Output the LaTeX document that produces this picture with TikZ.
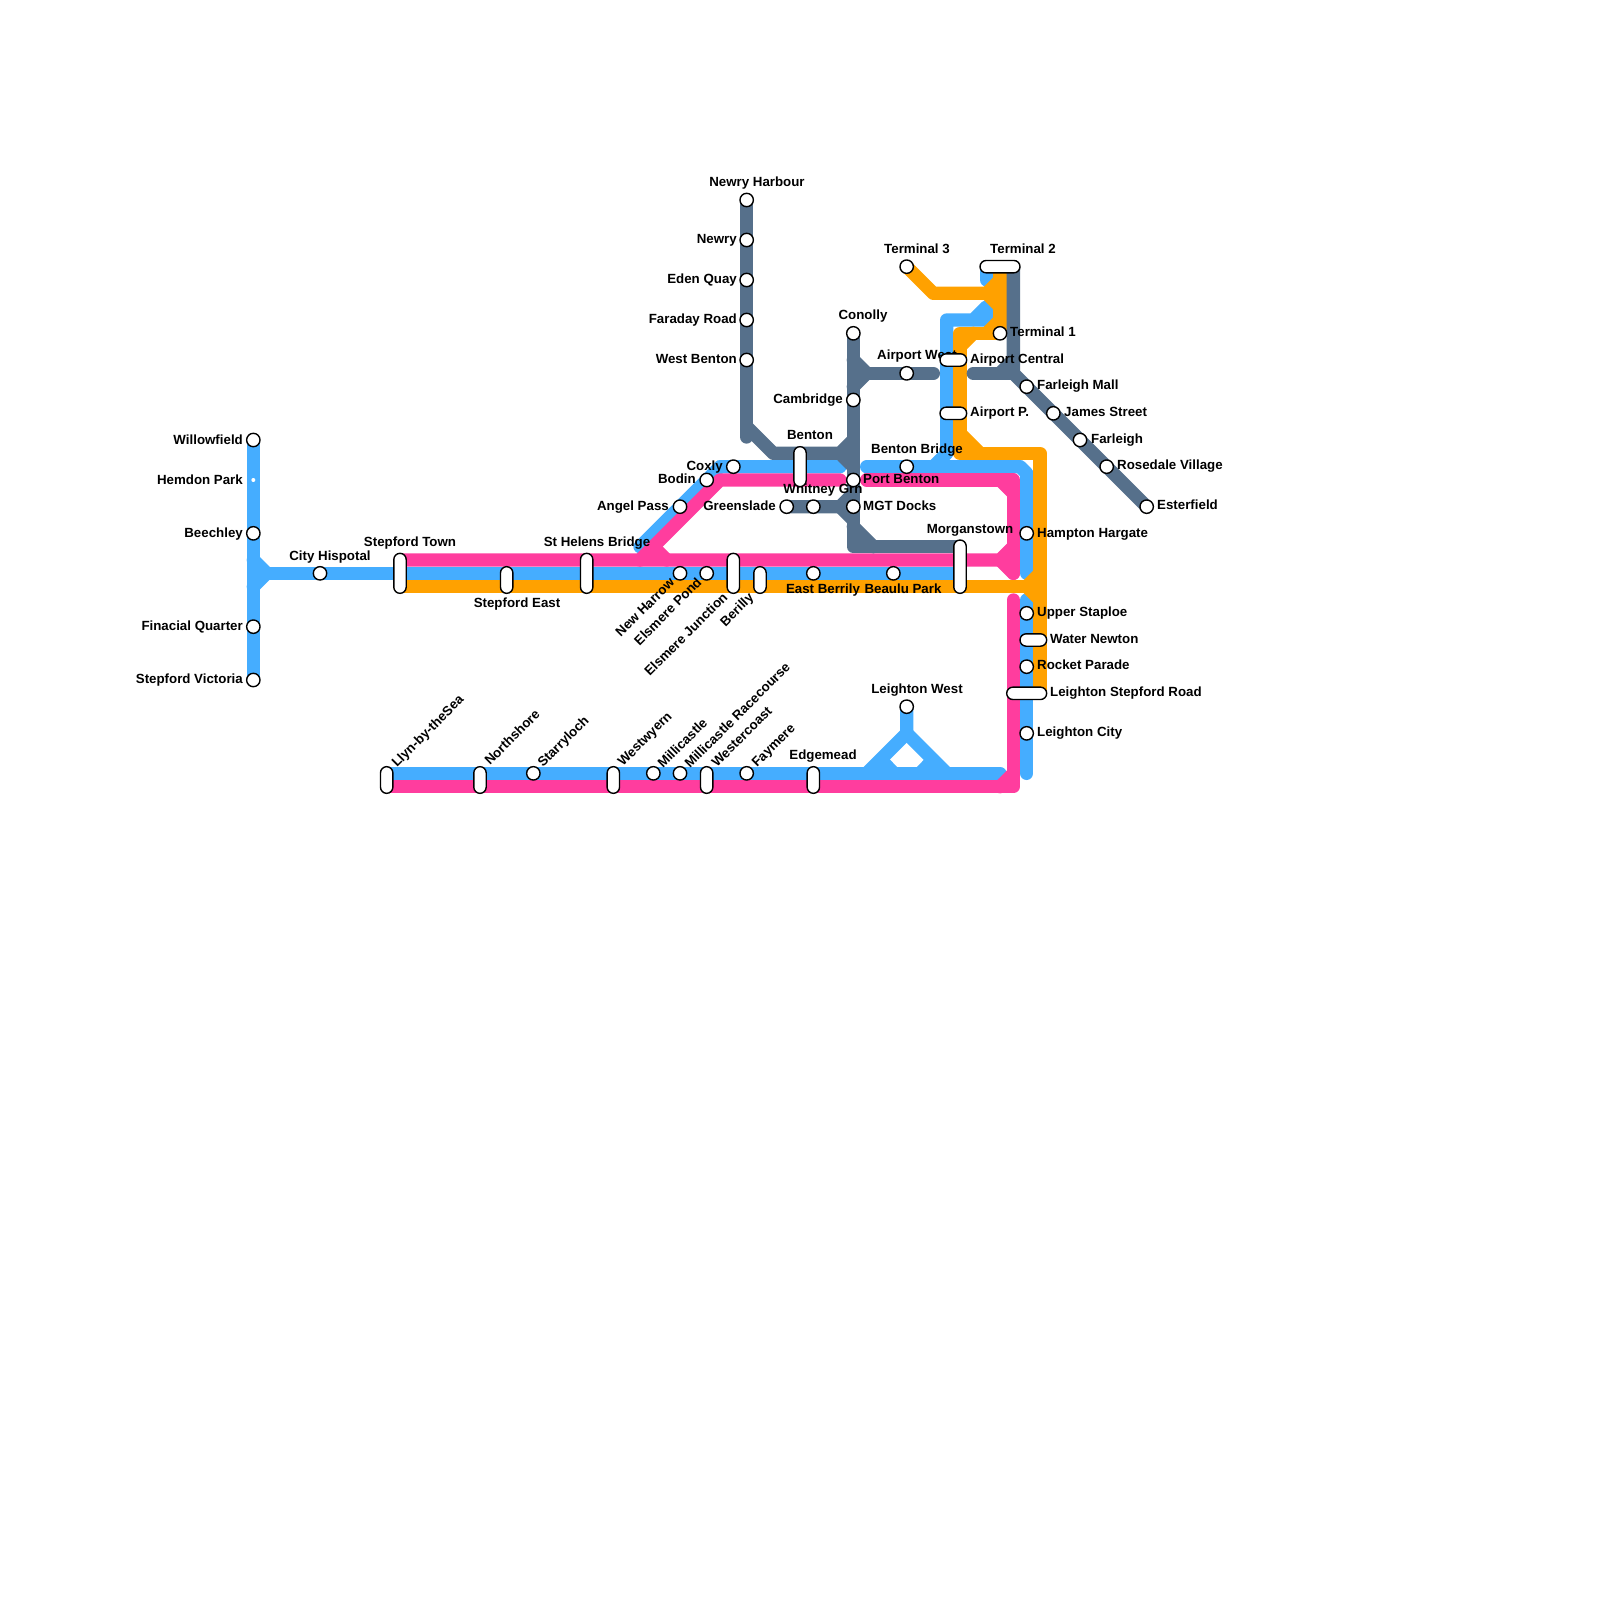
\documentclass[tikz,border=0pt]{standalone}
\usepackage{fontspec}
\setmainfont{Liberation Sans}
\usetikzlibrary{backgrounds}
\pgfdeclarelayer{stationlayer}
\pgfsetlayers{background,main,stationlayer}
\definecolor{mblue}{RGB}{69,173,255}
\definecolor{mpink}{RGB}{255,61,158}
\definecolor{morange}{RGB}{255,161,0}
\definecolor{mgrey}{RGB}{86,112,139}
\tikzset{
  x=1pt,y=-1pt,
  metro/.style={line width=13.33pt,line cap=round,line join=round},
  blueline/.style={metro,draw=mblue},
  pinkline/.style={metro,draw=mpink},
  orangeline/.style={metro,draw=morange},
  greyline/.style={metro,draw=mgrey},
  stn/.style={circle,draw=black,fill=white,line width=1.4pt,minimum size=13.4pt,inner sep=0pt},
  vcap/.style={draw=black,fill=white,line width=1.4pt,rounded corners=6.2pt,minimum width=12.4pt,inner sep=0pt,minimum height=#1},
  hcap/.style={draw=black,fill=white,line width=1.4pt,rounded corners=6.2pt,minimum height=12.4pt,inner sep=0pt,minimum width=#1},
  lab/.style={font=\fontsize{13.3}{15}\selectfont\bfseries,inner sep=0pt,text=black},
  lw/.style={lab,anchor=mid west,yshift=-1.8pt},
  le/.style={lab,anchor=mid east,yshift=-1.8pt},
  lc/.style={lab,anchor=mid,yshift=-1.8pt},
  rw/.style={lab,anchor=mid west,rotate=45,xshift=3.5pt,yshift=-2.2pt},
  re/.style={lab,anchor=mid east,rotate=45,xshift=-2pt,yshift=0pt},
}
\begin{document}
\begin{tikzpicture}
\useasboundingbox (0,0) rectangle (1600,1600);
% ---------- stations (top layer)
\begin{pgfonlayer}{stationlayer}
\node[stn] (willowfield) at (253.33,440) {};
\node[circle,fill=white,minimum size=4pt,inner sep=0pt] (hemdon) at (253.33,480) {};
\node[stn] (beechley) at (253.33,533.33) {};
\node[stn] (finacial) at (253.33,626.67) {};
\node[stn] (victoria) at (253.33,680) {};
\node[stn] (cityhosp) at (320,573.33) {};
\node[vcap=40pt] (stepfordtown) at (400,573.33) {};
\node[vcap=26.67pt] (stepfordeast) at (506.67,580) {};
\node[vcap=40pt] (sthelens) at (586.67,573.33) {};
\node[stn] (newharrow) at (680,573.33) {};
\node[stn] (elsmerepond) at (706.67,573.33) {};
\node[vcap=40pt] (elsmerej) at (733.33,573.33) {};
\node[vcap=26.67pt] (berilly) at (760,580) {};
\node[stn] (eastberrily) at (813.33,573.33) {};
\node[stn] (beaulu) at (893.33,573.33) {};
\node[vcap=53.33pt] (morganstown) at (960,566.67) {};
\node[stn] (angelpass) at (680,506.67) {};
\node[stn] (bodin) at (706.67,480) {};
\node[stn] (coxly) at (733.33,466.67) {};
\node[vcap=40pt] (benton) at (800,466.67) {};
\node[stn] (portbenton) at (853.33,480) {};
\node[stn] (mgt) at (853.33,506.67) {};
\node[stn] (whitney) at (813.33,506.67) {};
\node[stn] (greenslade) at (786.67,506.67) {};
\node[stn] (bentonbridge) at (906.67,466.67) {};
\node[stn] (hampton) at (1026.67,533.33) {};
\node[stn] (newryh) at (746.67,200) {};
\node[stn] (newry) at (746.67,240) {};
\node[stn] (eden) at (746.67,280) {};
\node[stn] (faraday) at (746.67,320) {};
\node[stn] (westbenton) at (746.67,360) {};
\node[stn] (conolly) at (853.33,333.33) {};
\node[stn] (cambridge) at (853.33,400) {};
\node[stn] (airportw) at (906.67,373.33) {};
\node[hcap=26.67pt] (airportc) at (953.33,360) {};
\node[hcap=26.67pt] (airportp) at (953.33,413.33) {};
\node[stn] (terminal3) at (906.67,266.67) {};
\node[hcap=40pt] (terminal2) at (1000,266.67) {};
\node[stn] (terminal1) at (1000,333.33) {};
\node[stn] (farleighm) at (1026.67,386.67) {};
\node[stn] (james) at (1053.33,413.33) {};
\node[stn] (farleigh) at (1080,440) {};
\node[stn] (rosedale) at (1106.67,466.67) {};
\node[stn] (esterfield) at (1146.67,506.67) {};
\node[stn] (upper) at (1026.67,613.33) {};
\node[hcap=26.67pt] (water) at (1033.33,640) {};
\node[stn] (rocket) at (1026.67,666.67) {};
\node[hcap=40pt] (leightons) at (1026.67,693.33) {};
\node[stn] (leightonc) at (1026.67,733.33) {};
\node[stn] (leightonw) at (906.67,706.67) {};
\node[vcap=26.67pt] (llyn) at (386.67,780) {};
\node[vcap=26.67pt] (northshore) at (480,780) {};
\node[stn] (starryloch) at (533.33,773.33) {};
\node[vcap=26.67pt] (westwyern) at (613.33,780) {};
\node[stn] (millicastle) at (653.33,773.33) {};
\node[stn] (racecourse) at (680,773.33) {};
\node[vcap=26.67pt] (westercoast) at (706.67,780) {};
\node[stn] (faymere) at (746.67,773.33) {};
\node[vcap=26.67pt] (edgemead) at (813.33,780) {};
\end{pgfonlayer}
% ---------- waypoints
\coordinate (wA) at (253.33,560);
\coordinate (wB) at (266.67,573.33);
\coordinate (wC) at (253.33,586.67);
\coordinate (bD1) at (640,546.67);
\coordinate (bD2) at (720,466.67);
\coordinate (bD3) at (840,466.67);
\coordinate (bR1) at (866.67,466.67);
\coordinate (bR2) at (1020,466.67);
\coordinate (bR3) at (1026.67,473.33);
\coordinate (bR4) at (1026.67,573.33);
\coordinate (bS1) at (933.33,466.67);
\coordinate (bS2) at (946.67,453.33);
\coordinate (bS3) at (946.67,320);
\coordinate (bS4) at (973.33,320);
\coordinate (bS5) at (986.67,306.67);
\coordinate (bS6) at (986.67,320);
\coordinate (bT1) at (986.67,266.67);
\coordinate (bT2) at (986.67,280);
\coordinate (bL1) at (1026.67,600);
\coordinate (bL2) at (1026.67,773.33);
\coordinate (bB1) at (386.67,773.33);
\coordinate (bB2) at (1000,773.33);
\coordinate (bW1) at (906.67,733.33);
\coordinate (bW2) at (866.67,773.33);
\coordinate (bW3) at (946.67,773.33);
\coordinate (bW4) at (881,760);
\coordinate (bW5) at (894,773.33);
\coordinate (bW6) at (933,760);
\coordinate (bW7) at (920,773.33);
\coordinate (pM1) at (400,560);
\coordinate (pM2) at (1000,560);
\coordinate (pM3) at (1013.33,546.67);
\coordinate (pM4) at (1013.33,573.33);
\coordinate (pU1) at (866.67,480);
\coordinate (pU2) at (1013.33,480);
\coordinate (pU3) at (1000,480);
\coordinate (pU4) at (1013.33,493.33);
\coordinate (pD1) at (640,560);
\coordinate (pD2) at (720,480);
\coordinate (pD3) at (840,480);
\coordinate (pD4) at (653.33,546.67);
\coordinate (pD5) at (666.67,560);
\coordinate (pB1) at (386.67,786.67);
\coordinate (pB2) at (1013.33,786.67);
\coordinate (pB3) at (1013.33,600);
\coordinate (pB4) at (1000,786.67);
\coordinate (pB5) at (1013.33,773.33);
\coordinate (oM1) at (400,586.67);
\coordinate (oM2) at (1040,586.67);
\coordinate (oJ1) at (1026.67,586.67);
\coordinate (oJ2) at (1040,573.33);
\coordinate (oJ3) at (1040,600);
\coordinate (oR1) at (960,453.33);
\coordinate (oR2) at (1040,453.33);
\coordinate (oR3) at (1040,693.33);
\coordinate (oR4) at (960,433.33);
\coordinate (oR5) at (980,453.33);
\coordinate (oA1) at (960,333.33);
\coordinate (oA2) at (960,346.67);
\coordinate (oA3) at (973.33,333.33);
\coordinate (oT1) at (933.33,293.33);
\coordinate (oT2) at (1000,293.33);
\coordinate (oT3) at (986.67,293.33);
\coordinate (oT4) at (1000,280);
\coordinate (oT5) at (1000,306.67);
\coordinate (oT6) at (1000,320);
\coordinate (oT7) at (986.67,333.33);
\coordinate (gB0) at (746.67,437);
\coordinate (gB1) at (746.67,426.67);
\coordinate (gB2) at (773.33,453.33);
\coordinate (gB3) at (840,453.33);
\coordinate (gB4) at (853.33,440);
\coordinate (gB5) at (853.33,466.67);
\coordinate (gV1) at (853.33,546.67);
\coordinate (gV2) at (853.33,526.67);
\coordinate (gV3) at (873.33,546.67);
\coordinate (gA1) at (853.33,360);
\coordinate (gA2) at (866.67,373.33);
\coordinate (gA3) at (853.33,386.67);
\coordinate (gA4) at (933.33,373.33);
\coordinate (gW1) at (840,506.67);
\coordinate (gW2) at (853.33,493.33);
\coordinate (gW3) at (853.33,520);
\coordinate (gT1) at (1013.33,266.67);
\coordinate (gT2) at (1013.33,373.33);
\coordinate (gT3) at (973.33,373.33);
\coordinate (gT4) at (1000,373.33);
\coordinate (gT5) at (1013.33,360);
% ---------- lines
\begin{pgfonlayer}{background}
% blue
\draw[blueline] (willowfield.center) -- (victoria.center);
\draw[blueline] (wA) -- (wB) -- (wC);
\draw[blueline] (wB) -- (stepfordtown.center) -- (morganstown.center |- stepfordtown.center);
\draw[blueline] (bD1) -- (bD2) -- (bD3);
\draw[blueline] (bR1) -- (bR2) -- (bR3) -- (bR4);
\draw[blueline] (bS1) -- (bS2) -- (bS3) -- (bS4) -- (bS5) -- (bS6) -- (bS4);
\draw[blueline] (bT1) -- (bT2);
\draw[blueline] (bL1) -- (bL2);
\draw[blueline] (bB1) -- (bB2);
\draw[blueline] (leightonw.center) -- (bW1) -- (bW2);
\draw[blueline] (bW1) -- (bW3);
\draw[blueline] (bW4) -- (bW5);
\draw[blueline] (bW6) -- (bW7);
% pink
\draw[pinkline] (pM1) -- (pM2) -- (pM3);
\draw[pinkline] (pM2) -- (pM4);
\draw[pinkline] (pU1) -- (pU2) -- (pM4);
\draw[pinkline] (pU3) -- (pU4);
\draw[pinkline] (pD1) -- (pD2) -- (pD3);
\draw[pinkline] (pD4) -- (pD5);
\draw[pinkline] (pB1) -- (pB2) -- (pB3);
\draw[pinkline] (pB4) -- (pB5);
% orange
\draw[orangeline] (oM1) -- (oM2);
\draw[orangeline] (oJ1) -- (oJ2);
\draw[orangeline] (oJ1) -- (oJ3);
\draw[orangeline] (terminal1.center) -- (oA1) -- (oR1) -- (oR2) -- (oR3);
\draw[orangeline] (oR4) -- (oR5);
\draw[orangeline] (oA2) -- (oA3);
\draw[orangeline] (terminal3.center) -- (oT1) -- (oT2);
\draw[orangeline] (terminal2.center) -- (terminal1.center);
\draw[orangeline] (oT4) -- (oT3) -- (oT5);
\draw[orangeline] (oT6) -- (oT7);
% grey
\draw[greyline] (newryh.center) -- (gB0);
\draw[greyline] (gB1) -- (gB2) -- (gB3) -- (gB4);
\draw[greyline] (gB3) -- (gB5);
\draw[greyline] (conolly.center) -- (gV1) -- (morganstown.center |- gV1);
\draw[greyline] (gV2) -- (gV3);
\draw[greyline] (gA1) -- (gA2) -- (gA3);
\draw[greyline] (gA2) -- (gA4);
\draw[greyline] (greenslade.center) -- (gW1) -- (gW2);
\draw[greyline] (gW1) -- (gW3);
\draw[greyline] (gT1) -- (gT2) -- (esterfield.center);
\draw[greyline] (gT3) -- (gT2);
\draw[greyline] (gT4) -- (gT5);
\end{pgfonlayer}
% ---------- labels
\node[le] (tWillowfield) at (243,440) {Willowfield};
\node[le] (tHemdon) at (243,480) {Hemdon Park};
\node[le] (tBeechley) at (243,533) {Beechley};
\node[le] (tFinacial) at (243,626) {Finacial Quarter};
\node[le] (tVictoria) at (243,679) {Stepford Victoria};
\node[lc] (tCity) at (330,556) {City Hispotal};
\node[lc] (tTown) at (410,542) {Stepford Town};
\node[lc] (tEast) at (517,603) {Stepford East};
\node[lc] (tHelens) at (597,542) {St Helens Bridge};
\node[re] (tHarrow) at (675,580) {New Harrow};
\node[re] (tPond) at (702,580) {Elsmere Pond};
\node[re] (tJunction) at (728,595) {Elsmere Junction};
\node[re] (tBerilly) at (754,595) {Berilly};
\node[lc] (tEBerrily) at (823,589) {East Berrily};
\node[lc] (tBeaulu) at (903,589) {Beaulu Park};
\node[lc] (tBenton) at (810,435) {Benton};
\node[lc] (tBBridge) at (917,449) {Benton Bridge};
\node[lw] (tPort) at (863,479) {Port Benton};
\node[lw] (tMGT) at (863,506) {MGT Docks};
\node[lc] (tWhitney) at (823,489) {Whitney Grn};
\node[le] (tGreenslade) at (776,506) {Greenslade};
\node[le] (tCoxly) at (723,466) {Coxly};
\node[le] (tBodin) at (696,479) {Bodin};
\node[le] (tAngel) at (669,506) {Angel Pass};
\node[lc] (tMorgan) at (970,529) {Morganstown};
\node[lw] (tHampton) at (1037,533) {Hampton Hargate};
\node[lw] (tUpper) at (1037,612) {Upper Staploe};
\node[lw] (tWater) at (1050,639) {Water Newton};
\node[lw] (tRocket) at (1037,665) {Rocket Parade};
\node[lw] (tLStep) at (1050,692) {Leighton Stepford Road};
\node[lw] (tLCity) at (1037,732) {Leighton City};
\node[lc] (tLWest) at (917,689) {Leighton West};
\node[lc] (tEdge) at (823,755) {Edgemead};
\node[lc] (tT3) at (917,249) {Terminal 3};
\node[lc] (tT2) at (1023,249) {Terminal 2};
\node[lw] (tT1) at (1010,332) {Terminal 1};
\node[lw] (tACentral) at (970,359) {Airport Central};
\node[lw] (tAP) at (970,412) {Airport P.};
\node[lw] (tAWest) at (877,355) {Airport West};
\node[lw] (tFMall) at (1037,385) {Farleigh Mall};
\node[lw] (tJames) at (1064,412) {James Street};
\node[lw] (tFarleigh) at (1091,439) {Farleigh};
\node[lw] (tRosedale) at (1117,465) {Rosedale Village};
\node[lw] (tEster) at (1157,505) {Esterfield};
\node[lc] (tConolly) at (863,315) {Conolly};
\node[le] (tCambridge) at (843,399) {Cambridge};
\node[lc] (tNewryH) at (757,182) {Newry Harbour};
\node[le] (tNewry) at (737,239) {Newry};
\node[le] (tEden) at (737,279) {Eden Quay};
\node[le] (tFaraday) at (737,319) {Faraday Road};
\node[le] (tWBenton) at (737,359) {West Benton};
\node[rw] (tLlyn) at (391,767) {Llyn-by-theSea};
\node[rw] (tNorth) at (484,765) {Northshore};
\node[rw] (tStarry) at (537,767) {Starryloch};
\node[rw] (tWestw) at (617,766) {Westwyern};
\node[rw] (tMilli) at (657,768) {Millicastle};
\node[rw] (tRace) at (684,768) {Millicastle Racecourse};
\node[rw] (tWestc) at (711,767) {Westercoast};
\node[rw] (tFay) at (751,767) {Faymere};
\end{tikzpicture}
\end{document}
